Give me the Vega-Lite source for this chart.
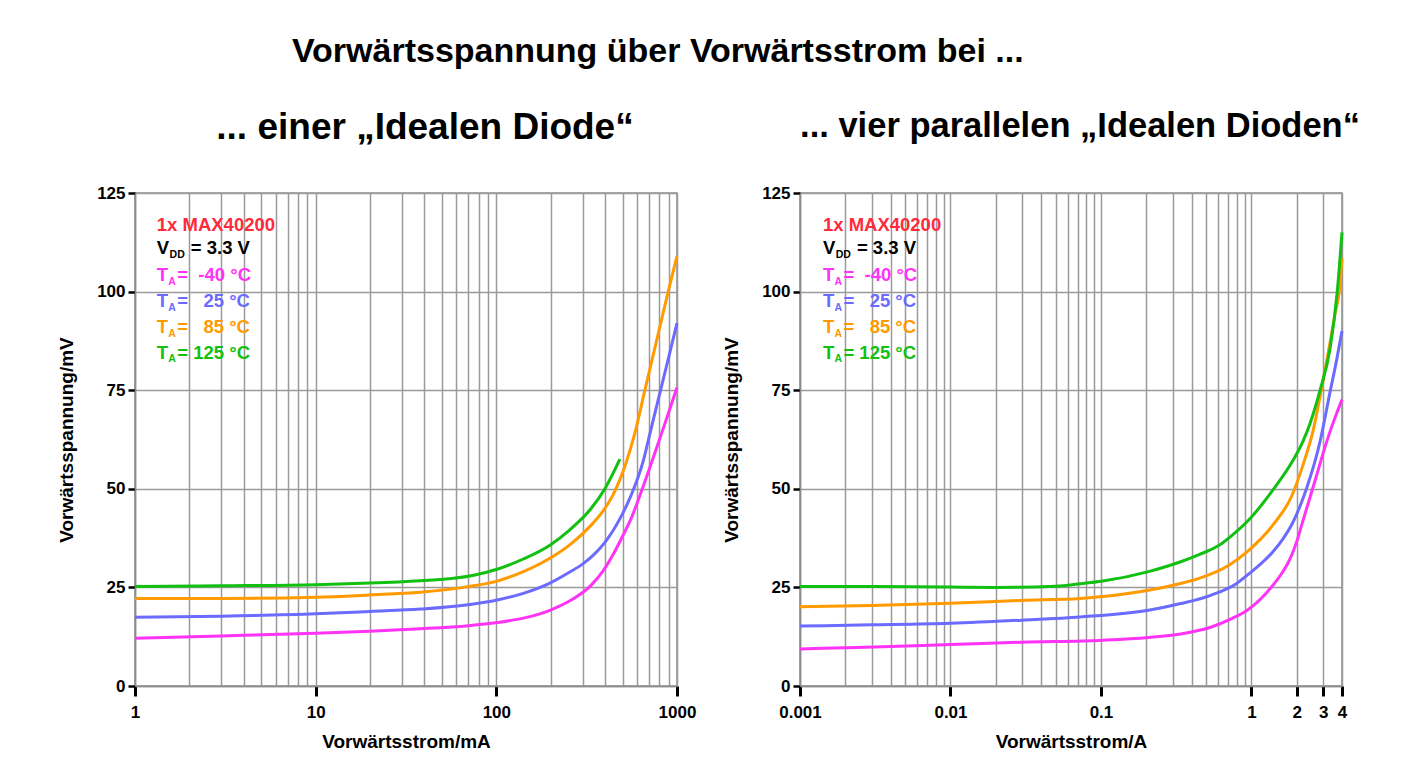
{
  "$schema": "https://vega.github.io/schema/vega-lite/v6.json",
  "background": "white",
  "padding": {"left": 56, "top": 35, "right": 5, "bottom": 5},
  "title": {"text": "Vorwärtsspannung über Vorwärtsstrom bei ...", "fontSize": 34, "fontWeight": "bold", "color": "black", "anchor": "middle", "dx": -51, "offset": 39},
  "datasets": {
    "left": [
      {"s": "-40 °C", "x": 1, "y": 12.1}, {"s": "-40 °C", "x": 3, "y": 12.7}, {"s": "-40 °C", "x": 10, "y": 13.4}, {"s": "-40 °C", "x": 20, "y": 13.9}, {"s": "-40 °C", "x": 38, "y": 14.5}, {"s": "-40 °C", "x": 70, "y": 15.3}, {"s": "-40 °C", "x": 101, "y": 16.1}, {"s": "-40 °C", "x": 141, "y": 17.2}, {"s": "-40 °C", "x": 198, "y": 19.2}, {"s": "-40 °C", "x": 255, "y": 21.6}, {"s": "-40 °C", "x": 332, "y": 25.4}, {"s": "-40 °C", "x": 390, "y": 29.2}, {"s": "-40 °C", "x": 444, "y": 33.4}, {"s": "-40 °C", "x": 500, "y": 38.0}, {"s": "-40 °C", "x": 553, "y": 42.1}, {"s": "-40 °C", "x": 637, "y": 49.5}, {"s": "-40 °C", "x": 720, "y": 56.4}, {"s": "-40 °C", "x": 804, "y": 62.8}, {"s": "-40 °C", "x": 900, "y": 69.4}, {"s": "-40 °C", "x": 1000, "y": 75.7},
      {"s": "25 °C", "x": 1, "y": 17.4}, {"s": "25 °C", "x": 3, "y": 17.7}, {"s": "25 °C", "x": 10, "y": 18.3}, {"s": "25 °C", "x": 20, "y": 18.9}, {"s": "25 °C", "x": 38, "y": 19.5}, {"s": "25 °C", "x": 70, "y": 20.6}, {"s": "25 °C", "x": 101, "y": 21.8}, {"s": "25 °C", "x": 141, "y": 23.5}, {"s": "25 °C", "x": 198, "y": 26.1}, {"s": "25 °C", "x": 255, "y": 28.9}, {"s": "25 °C", "x": 300, "y": 30.9}, {"s": "25 °C", "x": 350, "y": 33.5}, {"s": "25 °C", "x": 400, "y": 36.5}, {"s": "25 °C", "x": 444, "y": 39.5}, {"s": "25 °C", "x": 500, "y": 43.7}, {"s": "25 °C", "x": 553, "y": 48.0}, {"s": "25 °C", "x": 650, "y": 57.0}, {"s": "25 °C", "x": 708, "y": 64.0}, {"s": "25 °C", "x": 811, "y": 75.0}, {"s": "25 °C", "x": 900, "y": 83.4}, {"s": "25 °C", "x": 1000, "y": 92.0},
      {"s": "85 °C", "x": 1, "y": 22.2}, {"s": "85 °C", "x": 3, "y": 22.2}, {"s": "85 °C", "x": 10, "y": 22.5}, {"s": "85 °C", "x": 20, "y": 23.1}, {"s": "85 °C", "x": 38, "y": 23.8}, {"s": "85 °C", "x": 70, "y": 25.2}, {"s": "85 °C", "x": 101, "y": 26.6}, {"s": "85 °C", "x": 141, "y": 29.0}, {"s": "85 °C", "x": 198, "y": 32.4}, {"s": "85 °C", "x": 255, "y": 35.8}, {"s": "85 °C", "x": 332, "y": 40.6}, {"s": "85 °C", "x": 390, "y": 44.4}, {"s": "85 °C", "x": 444, "y": 48.6}, {"s": "85 °C", "x": 526, "y": 57.0}, {"s": "85 °C", "x": 585, "y": 64.2}, {"s": "85 °C", "x": 664, "y": 75.0}, {"s": "85 °C", "x": 780, "y": 88.5}, {"s": "85 °C", "x": 894, "y": 100.0}, {"s": "85 °C", "x": 1000, "y": 109.0},
      {"s": "125 °C", "x": 1, "y": 25.2}, {"s": "125 °C", "x": 3, "y": 25.4}, {"s": "125 °C", "x": 10, "y": 25.7}, {"s": "125 °C", "x": 20, "y": 26.1}, {"s": "125 °C", "x": 38, "y": 26.7}, {"s": "125 °C", "x": 58, "y": 27.3}, {"s": "125 °C", "x": 75, "y": 28.1}, {"s": "125 °C", "x": 101, "y": 29.6}, {"s": "125 °C", "x": 141, "y": 32.2}, {"s": "125 °C", "x": 198, "y": 35.7}, {"s": "125 °C", "x": 255, "y": 39.6}, {"s": "125 °C", "x": 332, "y": 44.8}, {"s": "125 °C", "x": 399, "y": 50.0}, {"s": "125 °C", "x": 483, "y": 57.5}
    ],
    "right": [
      {"s": "-40 °C", "x": 0.001, "y": 9.4}, {"s": "-40 °C", "x": 0.002, "y": 9.7}, {"s": "-40 °C", "x": 0.004, "y": 10.0}, {"s": "-40 °C", "x": 0.01, "y": 10.5}, {"s": "-40 °C", "x": 0.03, "y": 11.1}, {"s": "-40 °C", "x": 0.103, "y": 11.6}, {"s": "-40 °C", "x": 0.207, "y": 12.3}, {"s": "-40 °C", "x": 0.339, "y": 13.2}, {"s": "-40 °C", "x": 0.536, "y": 14.9}, {"s": "-40 °C", "x": 0.74, "y": 17.1}, {"s": "-40 °C", "x": 0.939, "y": 19.2}, {"s": "-40 °C", "x": 1.395, "y": 25.6}, {"s": "-40 °C", "x": 1.6, "y": 28.7}, {"s": "-40 °C", "x": 1.75, "y": 31.2}, {"s": "-40 °C", "x": 1.87, "y": 33.6}, {"s": "-40 °C", "x": 2.0, "y": 36.6}, {"s": "-40 °C", "x": 2.15, "y": 40.6}, {"s": "-40 °C", "x": 2.45, "y": 47.8}, {"s": "-40 °C", "x": 2.78, "y": 54.8}, {"s": "-40 °C", "x": 3.12, "y": 61.2}, {"s": "-40 °C", "x": 3.33, "y": 64.5}, {"s": "-40 °C", "x": 3.7, "y": 69.3}, {"s": "-40 °C", "x": 4, "y": 72.6},
      {"s": "25 °C", "x": 0.001, "y": 15.2}, {"s": "25 °C", "x": 0.003, "y": 15.5}, {"s": "25 °C", "x": 0.01, "y": 15.9}, {"s": "25 °C", "x": 0.03, "y": 16.7}, {"s": "25 °C", "x": 0.0726, "y": 17.5}, {"s": "25 °C", "x": 0.207, "y": 19.2}, {"s": "25 °C", "x": 0.339, "y": 20.9}, {"s": "25 °C", "x": 0.536, "y": 23.0}, {"s": "25 °C", "x": 0.798, "y": 26.0}, {"s": "25 °C", "x": 0.939, "y": 28.1}, {"s": "25 °C", "x": 1.395, "y": 34.1}, {"s": "25 °C", "x": 1.6, "y": 37.0}, {"s": "25 °C", "x": 1.87, "y": 41.2}, {"s": "25 °C", "x": 2.1, "y": 45.5}, {"s": "25 °C", "x": 2.33, "y": 50.2}, {"s": "25 °C", "x": 2.86, "y": 62.0}, {"s": "25 °C", "x": 3.33, "y": 74.5}, {"s": "25 °C", "x": 3.7, "y": 83.0}, {"s": "25 °C", "x": 4, "y": 90.0},
      {"s": "85 °C", "x": 0.001, "y": 20.1}, {"s": "85 °C", "x": 0.003, "y": 20.4}, {"s": "85 °C", "x": 0.01, "y": 21.0}, {"s": "85 °C", "x": 0.03, "y": 21.7}, {"s": "85 °C", "x": 0.0726, "y": 22.2}, {"s": "85 °C", "x": 0.207, "y": 24.3}, {"s": "85 °C", "x": 0.339, "y": 26.0}, {"s": "85 °C", "x": 0.449, "y": 27.3}, {"s": "85 °C", "x": 0.713, "y": 30.7}, {"s": "85 °C", "x": 0.939, "y": 34.1}, {"s": "85 °C", "x": 1.395, "y": 40.9}, {"s": "85 °C", "x": 1.87, "y": 48.5}, {"s": "85 °C", "x": 2.2, "y": 56.0}, {"s": "85 °C", "x": 2.58, "y": 65.0}, {"s": "85 °C", "x": 2.93, "y": 75.5}, {"s": "85 °C", "x": 3.33, "y": 87.0}, {"s": "85 °C", "x": 3.6, "y": 94.5}, {"s": "85 °C", "x": 3.85, "y": 100.5}, {"s": "85 °C", "x": 4, "y": 108.5},
      {"s": "125 °C", "x": 0.001, "y": 25.2}, {"s": "125 °C", "x": 0.003, "y": 25.2}, {"s": "125 °C", "x": 0.01, "y": 25.1}, {"s": "125 °C", "x": 0.02, "y": 25.0}, {"s": "125 °C", "x": 0.05, "y": 25.3}, {"s": "125 °C", "x": 0.0726, "y": 25.9}, {"s": "125 °C", "x": 0.103, "y": 26.6}, {"s": "125 °C", "x": 0.207, "y": 29.0}, {"s": "125 °C", "x": 0.339, "y": 31.5}, {"s": "125 °C", "x": 0.449, "y": 33.3}, {"s": "125 °C", "x": 0.618, "y": 35.8}, {"s": "125 °C", "x": 0.798, "y": 39.2}, {"s": "125 °C", "x": 0.939, "y": 41.7}, {"s": "125 °C", "x": 1.395, "y": 49.8}, {"s": "125 °C", "x": 1.87, "y": 56.9}, {"s": "125 °C", "x": 2.2, "y": 62.0}, {"s": "125 °C", "x": 2.45, "y": 66.5}, {"s": "125 °C", "x": 2.86, "y": 75.0}, {"s": "125 °C", "x": 3.33, "y": 85.5}, {"s": "125 °C", "x": 3.72, "y": 100.0}, {"s": "125 °C", "x": 4, "y": 115.0}
    ],
    "legend": [
      {"s": "MAX", "pre": "1x MAX40200", "sub": "", "post": "", "y": 117},
      {"s": "VDD", "pre": "V", "sub": "DD", "post": "= 3.3 V", "y": 111},
      {"s": "-40 °C", "pre": "T", "sub": "A", "post": "=\u00a0\u00a0-40 °C", "y": 104.2},
      {"s": "25 °C", "pre": "T", "sub": "A", "post": "=\u00a0\u00a0\u00a025 °C", "y": 97.5},
      {"s": "85 °C", "pre": "T", "sub": "A", "post": "=\u00a0\u00a0\u00a085 °C", "y": 91},
      {"s": "125 °C", "pre": "T", "sub": "A", "post": "= 125 °C", "y": 84.5}
    ]
  },
  "spacing": 24,
  "hconcat": [
    {
      "width": 542,
      "height": 493,
      "title": {"text": "... einer „Idealen Diode“", "fontSize": 37, "fontWeight": "bold", "color": "black", "anchor": "middle", "dx": 19, "offset": 37},
      "layer": [
        {
          "mark": {"type": "rect", "color": "white"},
          "encoding": {
            "x": {"datum": 1.015, "type": "quantitative", "scale": {"type": "log", "domain": [1, 1000], "nice": false}, "axis": {
              "values": [1,2,3,4,5,6,7,8,9,10,20,30,40,50,60,70,80,90,100,200,300,400,500,600,700,800,900,1000],
              "labelExpr": "indexof([1,10,100,1000], datum.value) >= 0 ? format(datum.value, '~g') : ''",
              "tickOpacity": {"condition": {"test": "indexof([1,10,100,1000], datum.value) >= 0", "value": 1}, "value": 0},
              "title": "Vorwärtsstrom/mA"}},
            "x2": {"datum": 6.75},
            "y": {"datum": 79.5, "type": "quantitative", "scale": {"domain": [0, 125], "nice": false}, "axis": {"values": [0, 25, 50, 75, 100, 125], "title": "Vorwärtsspannung/mV"}},
            "y2": {"datum": 121}
          }
        },
        {
          "data": {"name": "left"},
          "mark": {"type": "line", "strokeWidth": 3, "interpolate": "monotone"},
          "encoding": {
            "x": {"field": "x", "type": "quantitative"},
            "y": {"field": "y", "type": "quantitative"},
            "color": {"field": "s", "type": "nominal", "scale": {"domain": ["MAX", "VDD", "-40 °C", "25 °C", "85 °C", "125 °C"], "range": ["#ff2b3b", "#000000", "#ff33f5", "#6b6bff", "#ff9a00", "#11c011"]}, "legend": null}
          }
        },
        {
          "data": {"name": "legend"},
          "mark": {"type": "text", "align": "left", "baseline": "middle", "fontSize": 18.5, "fontWeight": "bold"},
          "encoding": {
            "x": {"datum": 1.32},
            "y": {"field": "y", "type": "quantitative"},
            "text": {"field": "pre"},
            "color": {"field": "s", "type": "nominal", "legend": null}
          }
        },
        {
          "data": {"name": "legend"},
          "transform": [{"filter": "datum.sub == 'A'"}],
          "mark": {"type": "text", "align": "left", "baseline": "middle", "fontSize": 10.5, "fontWeight": "bold", "dx": 11.5, "dy": 6.5},
          "encoding": {
            "x": {"datum": 1.32},
            "y": {"field": "y", "type": "quantitative"},
            "text": {"field": "sub"},
            "color": {"field": "s", "type": "nominal", "legend": null}
          }
        },
        {
          "data": {"name": "legend"},
          "transform": [{"filter": "datum.sub == 'DD'"}],
          "mark": {"type": "text", "align": "left", "baseline": "middle", "fontSize": 10.5, "fontWeight": "bold", "dx": 12.8, "dy": 6.5},
          "encoding": {
            "x": {"datum": 1.32},
            "y": {"field": "y", "type": "quantitative"},
            "text": {"field": "sub"},
            "color": {"field": "s", "type": "nominal", "legend": null}
          }
        },
        {
          "data": {"name": "legend"},
          "transform": [{"filter": "datum.sub == 'A'"}],
          "mark": {"type": "text", "align": "left", "baseline": "middle", "fontSize": 18.5, "fontWeight": "bold", "dx": 20.5},
          "encoding": {
            "x": {"datum": 1.32},
            "y": {"field": "y", "type": "quantitative"},
            "text": {"field": "post"},
            "color": {"field": "s", "type": "nominal", "legend": null}
          }
        },
        {
          "data": {"name": "legend"},
          "transform": [{"filter": "datum.sub == 'DD'"}],
          "mark": {"type": "text", "align": "left", "baseline": "middle", "fontSize": 18.5, "fontWeight": "bold", "dx": 34},
          "encoding": {
            "x": {"datum": 1.32},
            "y": {"field": "y", "type": "quantitative"},
            "text": {"field": "post"},
            "color": {"field": "s", "type": "nominal", "legend": null}
          }
        }
      ]
    },
    {
      "width": 542,
      "height": 493,
      "title": {"text": "... vier parallelen „Idealen Dioden“", "fontSize": 34.5, "fontWeight": "bold", "color": "black", "anchor": "middle", "dx": 9, "offset": 39.5},
      "layer": [
        {
          "mark": {"type": "rect", "color": "white"},
          "encoding": {
            "x": {"datum": 0.001015, "type": "quantitative", "scale": {"type": "log", "domain": [0.001, 4], "nice": false}, "axis": {
              "values": [0.001,0.002,0.003,0.004,0.005,0.006,0.007,0.008,0.009,0.01,0.02,0.03,0.04,0.05,0.06,0.07,0.08,0.09,0.1,0.2,0.3,0.4,0.5,0.6,0.7,0.8,0.9,1,2,3,4],
              "labelExpr": "indexof([0.001,0.01,0.1,1,2,3,4], datum.value) >= 0 ? format(datum.value, '~g') : ''",
              "tickOpacity": {"condition": {"test": "indexof([0.001,0.01,0.1,1,2,3,4], datum.value) >= 0", "value": 1}, "value": 0},
              "title": "Vorwärtsstrom/A"}},
            "x2": {"datum": 0.0097},
            "y": {"datum": 79.5, "type": "quantitative", "scale": {"domain": [0, 125], "nice": false}, "axis": {"values": [0, 25, 50, 75, 100, 125], "title": "Vorwärtsspannung/mV"}},
            "y2": {"datum": 121}
          }
        },
        {
          "data": {"name": "right"},
          "mark": {"type": "line", "strokeWidth": 3, "interpolate": "monotone"},
          "encoding": {
            "x": {"field": "x", "type": "quantitative"},
            "y": {"field": "y", "type": "quantitative"},
            "color": {"field": "s", "type": "nominal", "scale": {"domain": ["MAX", "VDD", "-40 °C", "25 °C", "85 °C", "125 °C"], "range": ["#ff2b3b", "#000000", "#ff33f5", "#6b6bff", "#ff9a00", "#11c011"]}, "legend": null}
          }
        },
        {
          "data": {"name": "legend"},
          "mark": {"type": "text", "align": "left", "baseline": "middle", "fontSize": 18.5, "fontWeight": "bold"},
          "encoding": {
            "x": {"datum": 0.00142},
            "y": {"field": "y", "type": "quantitative"},
            "text": {"field": "pre"},
            "color": {"field": "s", "type": "nominal", "legend": null}
          }
        },
        {
          "data": {"name": "legend"},
          "transform": [{"filter": "datum.sub == 'A'"}],
          "mark": {"type": "text", "align": "left", "baseline": "middle", "fontSize": 10.5, "fontWeight": "bold", "dx": 11.5, "dy": 6.5},
          "encoding": {
            "x": {"datum": 0.00142},
            "y": {"field": "y", "type": "quantitative"},
            "text": {"field": "sub"},
            "color": {"field": "s", "type": "nominal", "legend": null}
          }
        },
        {
          "data": {"name": "legend"},
          "transform": [{"filter": "datum.sub == 'DD'"}],
          "mark": {"type": "text", "align": "left", "baseline": "middle", "fontSize": 10.5, "fontWeight": "bold", "dx": 12.8, "dy": 6.5},
          "encoding": {
            "x": {"datum": 0.00142},
            "y": {"field": "y", "type": "quantitative"},
            "text": {"field": "sub"},
            "color": {"field": "s", "type": "nominal", "legend": null}
          }
        },
        {
          "data": {"name": "legend"},
          "transform": [{"filter": "datum.sub == 'A'"}],
          "mark": {"type": "text", "align": "left", "baseline": "middle", "fontSize": 18.5, "fontWeight": "bold", "dx": 20.5},
          "encoding": {
            "x": {"datum": 0.00142},
            "y": {"field": "y", "type": "quantitative"},
            "text": {"field": "post"},
            "color": {"field": "s", "type": "nominal", "legend": null}
          }
        },
        {
          "data": {"name": "legend"},
          "transform": [{"filter": "datum.sub == 'DD'"}],
          "mark": {"type": "text", "align": "left", "baseline": "middle", "fontSize": 18.5, "fontWeight": "bold", "dx": 34},
          "encoding": {
            "x": {"datum": 0.00142},
            "y": {"field": "y", "type": "quantitative"},
            "text": {"field": "post"},
            "color": {"field": "s", "type": "nominal", "legend": null}
          }
        }
      ]
    }
  ],
  "config": {
    "font": "Liberation Sans",
    "view": {"stroke": "#8c8c8c", "strokeWidth": 1.5},
    "axis": {
      "grid": true, "gridColor": "#9a9a9a", "gridWidth": 1.5, "gridOpacity": 1,
      "domainColor": "#8c8c8c", "domainWidth": 1.5,
      "tickColor": "black", "tickWidth": 3, "tickSize": 10,
      "labelFontSize": 17, "labelFontWeight": "bold", "labelColor": "black",
      "labelOverlap": false, "labelFlush": false, "labelBound": false,
      "titleFontSize": 19, "titleFontWeight": "bold", "titleColor": "black"
    },
    "axisX": {"labelPadding": 8, "titlePadding": 12},
    "axisY": {"tickSize": 7, "tickWidth": 2.5, "labelPadding": 3, "titlePadding": 20}
  }
}
